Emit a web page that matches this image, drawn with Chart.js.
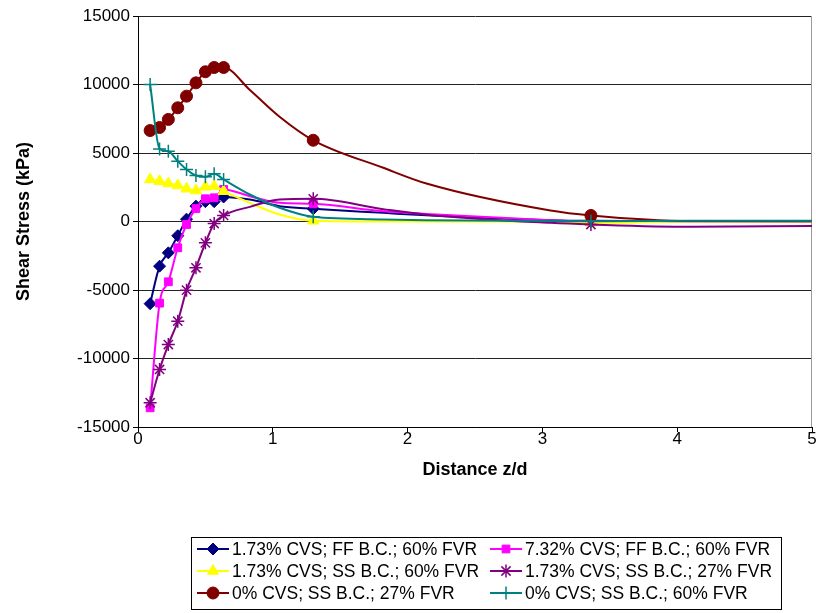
<!DOCTYPE html>
<html>
<head>
<meta charset="utf-8">
<script src="https://cdn.jsdelivr.net/npm/chart.js@4.4.1/dist/chart.umd.min.js"></script>
<style>
  html, body { margin: 0; padding: 0; background: #fff; overflow: hidden; }
  #wrap { width: 816px; height: 613px; overflow: hidden; }
</style>
</head>
<body>
<div id="wrap"><canvas id="shearChart" width="820" height="613"></canvas></div>
<script>
// distance z/d shared by all series (points past 5 are clipped by the axis)
var distance = [0.09, 0.16, 0.225, 0.295, 0.36, 0.43, 0.50, 0.565, 0.635, 0.83, 1.05, 1.30, 1.82, 2.14, 3.06, 3.36, 4.1, 6.0];
// 1 = Excel drew a marker on this point, 0 = point only shapes the smoothed line
var marked = [1, 1, 1, 1, 1, 1, 1, 1, 1, 0, 0, 1, 0, 0, 0, 1, 0, 0];

var labels = [
  "1.73% CVS; FF B.C.; 60% FVR",
  "7.32% CVS; FF B.C.; 60% FVR",
  "1.73% CVS; SS B.C.; 60% FVR",
  "1.73% CVS; SS B.C.; 27% FVR",
  "0% CVS; SS B.C.; 27% FVR",
  "0% CVS; SS B.C.; 60% FVR"
];

var cvs173FF60 = [-6000, -3260, -2290, -1040, 170, 1120, 1450, 1450, 1790, 1600, 1120, 930, 630, 450, 100, 50, 20, 0];
var cvs732FF60 = [-13600, -5960, -4400, -1920, -220, 950, 1660, 1730, 2340, 1850, 1360, 1290, 750, 550, 100, 0, 0, 0];
var cvs173SS60 = [3070, 2940, 2770, 2630, 2390, 2260, 2530, 2580, 2210, 1360, 510, 50, 0, 0, 0, -100, 0, 0];
var cvs173SS27 = [-13230, -10800, -8980, -7280, -5010, -3380, -1560, -150, 440, 1070, 1600, 1660, 900, 500, -100, -220, -390, -250];
var cvs0SS27 = [6640, 6860, 7450, 8300, 9150, 10120, 10930, 11240, 11240, 9600, 7650, 5930, 3920, 2770, 800, 440, 30, 0];
var cvs0SS60 = [10000, 5300, 5130, 4400, 3800, 3360, 3260, 3480, 3070, 1970, 1000, 340, 150, 100, 30, 20, 50, 50];

var yTicks = [-15000, -10000, -5000, 0, 5000, 10000, 15000];
var xTicks = [0, 1, 2, 3, 4, 5];

function points(values) {
  return distance.map(function (d, i) { return { x: d, y: values[i] }; });
}

function series(i, values, color, fill, style, radius) {
  return {
    label: labels[i],
    data: points(values),
    borderColor: color,
    backgroundColor: fill,
    borderWidth: 2,
    pointStyle: style,
    pointBackgroundColor: fill,
    pointBorderColor: color,
    pointBorderWidth: (style === 'cross' || style === 'star') ? 1.5 : 1,
    pointRadius: function (c) { return marked[c.dataIndex] ? radius : 0; },
    pointHoverRadius: 0,
    legendRadius: radius,
    cubicInterpolationMode: 'monotone',
    order: 10 - i
  };
}

var datasets = [
  series(0, cvs173FF60, '#000080', '#000080', 'rectRot', 6),
  series(1, cvs732FF60, '#FF00FF', '#FF00FF', 'rect', 5.5),
  series(2, cvs173SS60, '#FFFF00', '#FFFF00', 'triangle', 6.5),
  series(3, cvs173SS27, '#800080', '#800080', 'star', 6.5),
  series(4, cvs0SS27, '#800000', '#800000', 'circle', 6),
  series(5, cvs0SS60, '#008080', '#008080', 'cross', 6.5)
];

// gray plot area edge on the right, like Excel
var plotFrame = {
  id: 'plotFrame',
  beforeDatasetsDraw: function (chart) {
    var a = chart.chartArea, ctx = chart.ctx;
    ctx.save();
    ctx.strokeStyle = '#999';
    ctx.lineWidth = 1;
    ctx.beginPath();
    ctx.moveTo(a.right - 0.5, a.top);
    ctx.lineTo(a.right - 0.5, a.bottom);
    ctx.stroke();
    ctx.restore();
  }
};

// boxed two-column legend under the axis title
var legendBox = {
  id: 'legendBox',
  afterDraw: function (chart) {
    var ctx = chart.ctx;
    ctx.save();
    ctx.fillStyle = '#fff';
    ctx.fillRect(191, 537, 590, 72);
    ctx.strokeStyle = '#000';
    ctx.lineWidth = 1;
    ctx.strokeRect(191.5, 537.5, 590, 72);
    ctx.font = '17.5px "Liberation Sans", Arial, sans-serif';
    ctx.textBaseline = 'middle';
    chart.data.datasets.forEach(function (ds, i) {
      var x0 = (i % 2) ? 490 : 197;
      var y = 549 + Math.floor(i / 2) * 22;
      ctx.strokeStyle = ds.borderColor;
      ctx.lineWidth = 2;
      ctx.beginPath();
      ctx.moveTo(x0, y);
      ctx.lineTo(x0 + 32, y);
      ctx.stroke();
      ctx.fillStyle = ds.pointBackgroundColor;
      ctx.strokeStyle = ds.pointBorderColor;
      ctx.lineWidth = ds.pointBorderWidth;
      Chart.helpers.drawPoint(ctx, { pointStyle: ds.pointStyle, radius: ds.legendRadius, rotation: 0, borderWidth: ds.pointBorderWidth }, x0 + 16, y);
      ctx.fillStyle = '#000';
      ctx.fillText(ds.label, x0 + 35, y + 1);
    });
    ctx.restore();
  }
};

Chart.defaults.font.family = '"Liberation Sans", Arial, sans-serif';
Chart.defaults.color = '#000';

new Chart(document.getElementById('shearChart'), {
  type: 'line',
  data: { datasets: datasets },
  options: {
    responsive: false,
    animation: false,
    layout: { padding: { left: 0, top: 16, right: 0, bottom: 126 } },
    plugins: {
      legend: { display: false },
      tooltip: { enabled: false }
    },
    scales: {
      x: {
        type: 'linear',
        min: 0,
        max: 5,
        afterFit: function (s) { s.height = 60; },
        afterBuildTicks: function (s) { s.ticks = xTicks.map(function (v) { return { value: v }; }); },
        ticks: { font: { size: 17 }, padding: -3, callback: function (v) { return String(v); } },
        grid: { drawOnChartArea: false, drawTicks: true, tickLength: 5, color: '#000' },
        border: { color: '#000', width: 1 },
        title: { display: true, text: 'Distance z/d', font: { size: 18, weight: 'bold' }, padding: { bottom: 6 } }
      },
      y: {
        min: -15000,
        max: 15000,
        afterFit: function (s) { s.width = 138; },
        afterBuildTicks: function (s) { s.ticks = yTicks.map(function (v) { return { value: v }; }); },
        ticks: { font: { size: 17 }, padding: 3, callback: function (v) { return String(v); } },
        grid: { color: '#222', lineWidth: 1, drawTicks: true, tickLength: 5, tickColor: '#000' },
        border: { color: '#000', width: 1 },
        title: { display: true, text: 'Shear Stress (kPa)', font: { size: 18, weight: 'bold' }, padding: { top: 13 } }
      }
    }
  },
  plugins: [plotFrame, legendBox]
});
</script>
</body>
</html>
